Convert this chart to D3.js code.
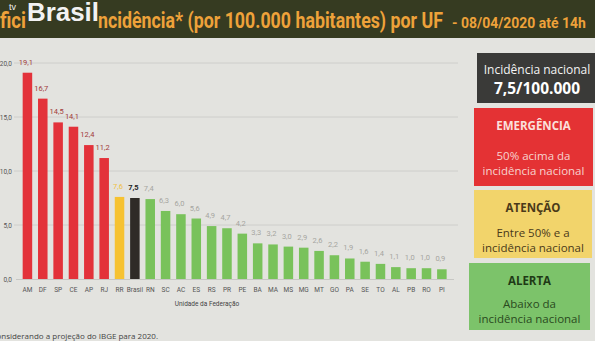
<!DOCTYPE html>
<html><head><meta charset="utf-8">
<script src="https://cdn.jsdelivr.net/npm/d3@7"></script>
<style>body{margin:0;background:#e3e3df;overflow:hidden}svg{display:block}</style>
</head><body>
<script>
const categories = ["AM","DF","SP","CE","AP","RJ","RR","Brasil","RN","SC","AC","ES","RS","PR","PE","BA","MA","MS","MG","MT","GO","PA","SE","TO","AL","PB","RO","PI"];
const values = [19.1,16.7,14.5,14.1,12.4,11.2,7.6,7.5,7.4,6.3,6.0,5.6,4.9,4.7,4.2,3.3,3.2,3.0,2.9,2.6,2.2,1.9,1.6,1.4,1.1,1.0,1.0,0.9];
const levels = ["emergencia","emergencia","emergencia","emergencia","emergencia","emergencia","atencao","brasil","alerta","alerta","alerta","alerta","alerta","alerta","alerta","alerta","alerta","alerta","alerta","alerta","alerta","alerta","alerta","alerta","alerta","alerta","alerta","alerta"];
const yTicks = [0,5,10,15,20];
const legendTitles = ["EMERGÊNCIA","ATENÇÃO","ALERTA"];

const W=595,H=341;
const svg=d3.select("body").append("svg").attr("width",W).attr("height",H);
const fmt=v=>d3.format(".1f")(v).replace(".",",");
const tf="'Liberation Sans Narrow','Roboto','Liberation Sans',sans-serif";

// fit text horizontally with a scale transform
function fitText(x0,yb,size,width,txt,color,weight,fam){
  const gg=svg.append("g");
  const t=gg.append("text").attr("x",0).attr("y",0).attr("fill",color).attr("font-family",fam)
    .attr("font-weight",weight).attr("font-size",size).text(txt);
  const w=t.node().getComputedTextLength();
  gg.attr("transform",`translate(${x0},${yb}) scale(${width/w},1)`);
  return gg;
}

// header
svg.append("rect").attr("x",0).attr("y",0).attr("width",W).attr("height",38).attr("fill","#363b21");
fitText(0,28,22,26,"fici","#eea23a","bold",tf);
fitText(98,28,22,345,"ncidência* (por 100.000 habitantes) por UF","#eea23a","bold",tf);
fitText(452,28,14,134,"- 08/04/2020 até 14h","#eea23a","bold",tf);
// tv Brasil logo overlay
svg.append("text").attr("x",9).attr("y",10).attr("fill","#f2f2f2").attr("font-family","'Liberation Sans',sans-serif").attr("font-size",9).text("tv");
fitText(27,21,26,72,"Brasil","#f2f2f2","bold","'Liberation Sans',sans-serif");

// chart
const x=d3.scaleBand().domain(categories).range([19.6,449.7]).paddingInner(0.38).paddingOuter(0.2);
const y=d3.scaleLinear().domain([0,20]).range([279,63]);
const fill={emergencia:"#e3323a",atencao:"#f6c231",brasil:"#2f2b27",alerta:"#79c25b"};
const lab={emergencia:"#a23a3a",atencao:"#f0c040",brasil:"#222",alerta:"#a5a5a0"};

const g=svg.append("g");
g.selectAll("line.grid").data(yTicks.filter(d=>d>0)).join("line")
  .attr("x1",14).attr("x2",458).attr("y1",d=>y(d)).attr("y2",d=>y(d))
  .attr("stroke","#c9c9c5").attr("stroke-width",0.8);
const yAxis=g.append("g").attr("transform","translate(13,0)")
  .call(d3.axisLeft(y).tickValues(yTicks).tickSize(0).tickPadding(1).tickFormat(fmt));
yAxis.select(".domain").remove();
yAxis.selectAll("text").attr("font-family","Roboto,sans-serif").attr("font-size",6.5).attr("fill","#555");

g.selectAll("rect.bar").data(values).join("rect").attr("class","bar")
  .attr("x",(d,i)=>x(categories[i])).attr("width",x.bandwidth())
  .attr("y",d=>y(d)).attr("height",d=>y(0)-y(d))
  .attr("fill",(d,i)=>fill[levels[i]]);
g.append("line").attr("x1",16).attr("x2",454).attr("y1",y(0)+0.5).attr("y2",y(0)+0.5).attr("stroke","#c0c0bc").attr("stroke-width",0.8);

g.selectAll("text.val").data(values).join("text")
  .attr("x",(d,i)=>x(categories[i])+x.bandwidth()/2-1.5).attr("y",d=>y(d)-8)
  .attr("text-anchor","middle").attr("font-family","Roboto,sans-serif").attr("font-size",7.5)
  .attr("font-weight",(d,i)=>levels[i]==="brasil"?"bold":"normal")
  .attr("fill",(d,i)=>lab[levels[i]]).text(fmt);

const xAxis=g.append("g").attr("transform",`translate(0,${y(0)})`)
  .call(d3.axisBottom(x).tickSize(0).tickPadding(8));
xAxis.select(".domain").remove();
xAxis.selectAll("text").attr("font-family","Roboto,sans-serif").attr("font-size",6.5).attr("fill","#555");

svg.append("text").attr("x",207).attr("y",306).attr("text-anchor","middle").attr("font-family","Roboto,sans-serif")
  .attr("font-size",6.5).attr("fill","#444").text("Unidade da Federação");
svg.append("text").attr("x",158).attr("y",339).attr("text-anchor","end").attr("font-family","'Open Sans',sans-serif")
  .attr("font-size",8).attr("fill","#444").text("*Considerando a projeção do IBGE para 2020.");

// legend
const lf="'Open Sans',sans-serif";
svg.append("rect").attr("x",477).attr("y",53).attr("width",118).attr("height",50).attr("fill","#3a3a38");
svg.append("text").attr("x",537).attr("y",74).attr("text-anchor","middle").attr("fill","#f4f4f4").attr("font-family",lf).attr("font-size",12).text("Incidência nacional");
svg.append("text").attr("x",537).attr("y",94).attr("text-anchor","middle").attr("fill","#fff").attr("font-family",lf).attr("font-weight","bold").attr("font-size",15.5).text("7,5/100.000");

const boxes=[
 {y:108,h:78,x:474,w:119,c:"#e43234",tc:"#fbe0dc",lc:"#f7d2cf",lines:["50% acima da","incidência nacional"]},
 {y:190,h:68,x:474,w:118,c:"#f2d46b",tc:"#4a3a1a",lc:"#4a3a1a",lines:["Entre 50% e a","incidência nacional"]},
 {y:263,h:67,x:469,w:121,c:"#7cc36a",tc:"#1f3a16",lc:"#2a4a1e",lines:["Abaixo da","incidência nacional"]}
];
boxes.forEach((b,i)=>{
  svg.append("rect").attr("x",b.x).attr("y",b.y).attr("width",b.w).attr("height",b.h).attr("fill",b.c);
  const cx=b.x+b.w/2;
  svg.append("text").attr("x",cx).attr("y",b.y+22).attr("text-anchor","middle").attr("fill",b.tc)
    .attr("font-family",lf).attr("font-weight","bold").attr("font-size",11.5).text(legendTitles[i]);
  b.lines.forEach((t,j)=>svg.append("text").attr("x",cx).attr("y",b.y+(i===0?52:i===1?47:45)+j*15).attr("text-anchor","middle")
    .attr("fill",b.lc).attr("font-family",lf).attr("font-size",11.5).text(t));
});
</script>
</body></html>
